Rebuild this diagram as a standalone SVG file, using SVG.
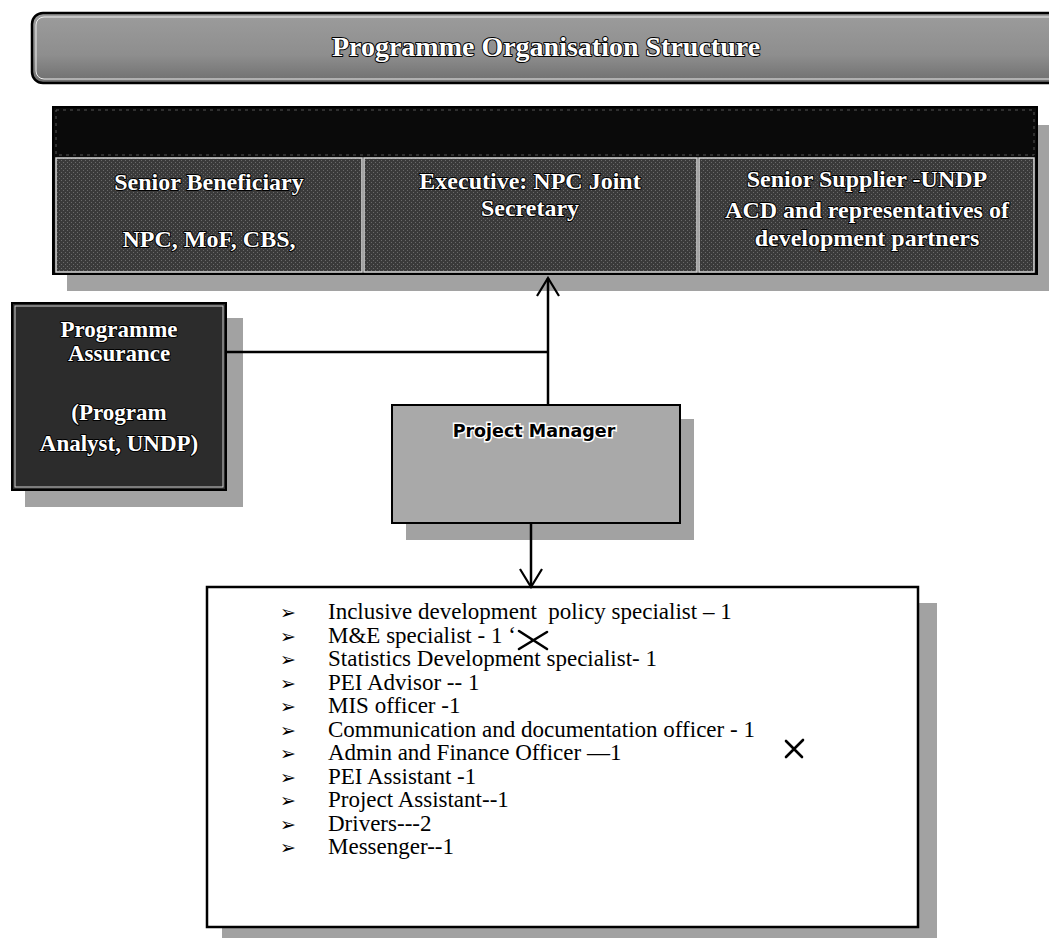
<svg xmlns="http://www.w3.org/2000/svg" width="1049" height="938" viewBox="0 0 1049 938">
  <defs>
    <linearGradient id="bannerGrad" x1="0" y1="0" x2="0" y2="1">
      <stop offset="0" stop-color="#9c9c9c"/>
      <stop offset="0.6" stop-color="#8e8e8e"/>
      <stop offset="1" stop-color="#6e6e6e"/>
    </linearGradient>
    <pattern id="dither" width="4" height="4" patternUnits="userSpaceOnUse">
      <rect width="4" height="4" fill="#3a3a3a"/>
      <rect x="1" y="0" width="1" height="1" fill="#6a6a6a"/>
      <rect x="3" y="2" width="1" height="1" fill="#6a6a6a"/>
    </pattern>
    <marker id="arr" markerWidth="24" markerHeight="24" refX="22" refY="12" orient="auto" markerUnits="userSpaceOnUse">
      <path d="M4,1 L22,12 L4,23" fill="none" stroke="#000" stroke-width="2.2"/>
    </marker>
  </defs>
  <style>
    .ol { font-family: "Liberation Serif", "Times New Roman", serif; font-weight: bold; fill: #fff; stroke: #000; stroke-width: 2; paint-order: stroke; stroke-linejoin: round; text-anchor: middle; }
    .cell { fill: url(#dither); stroke: #d8d8d8; stroke-width: 1.5; }
    .shadow { fill: #a2a2a2; }
    .item { font-family: "Liberation Serif", "Times New Roman", serif; font-size: 23px; fill: #000; white-space: pre; }
    .bul { font-family: "DejaVu Sans", sans-serif; font-size: 19px; fill: #000; }
    .conn { fill: none; stroke: #000; stroke-width: 2.5; }
    .mark { fill: none; stroke: #000; stroke-width: 2.6; stroke-linecap: round; }
  </style>

  <rect width="1049" height="938" fill="#fff"/>

  <g id="title">
    <rect x="32" y="13" width="1040" height="70" rx="11" fill="url(#bannerGrad)" stroke="#000" stroke-width="2.5"/>
    <rect x="36" y="17" width="1030" height="62" rx="8" fill="none" stroke="#eee" stroke-width="1"/>
    <text class="ol" x="546" y="56" font-size="28">Programme Organisation Structure</text>
  </g>

  <g id="board">
    <rect class="shadow" x="67" y="125" width="982" height="166"/>
    <rect x="53" y="107" width="984" height="167" fill="#0a0a0a" stroke="#000" stroke-width="2"/>
    <rect x="56" y="110" width="978" height="45" fill="none" stroke="#555" stroke-width="1" stroke-dasharray="3 4"/>
    <g id="senior-beneficiary">
      <rect class="cell" x="56" y="158" width="306" height="114"/>
      <text class="ol" x="209" y="190" font-size="24">Senior Beneficiary</text>
      <text class="ol" x="209" y="247" font-size="24">NPC, MoF, CBS,</text>
    </g>
    <g id="executive">
      <rect class="cell" x="364" y="158" width="333" height="114"/>
      <text class="ol" x="530" y="189" font-size="24">Executive: NPC Joint</text>
      <text class="ol" x="530" y="216" font-size="24">Secretary</text>
    </g>
    <g id="senior-supplier">
      <rect class="cell" x="699" y="158" width="335" height="114"/>
      <text class="ol" x="867" y="187" font-size="24">Senior Supplier -UNDP</text>
      <text class="ol" x="867" y="218" font-size="24">ACD and representatives of</text>
      <text class="ol" x="867" y="246" font-size="24">development partners</text>
    </g>
  </g>

  <g id="assurance">
    <rect class="shadow" x="25" y="318" width="218" height="189"/>
    <rect x="12" y="303" width="214" height="187" fill="#2c2c2c" stroke="#000" stroke-width="2"/>
    <rect x="15" y="306" width="208" height="181" fill="none" stroke="#cfcfcf" stroke-width="1"/>
    <text class="ol" x="119" y="337" font-size="23">Programme</text>
    <text class="ol" x="119" y="361" font-size="23">Assurance</text>
    <text class="ol" x="119" y="420" font-size="23">(Program</text>
    <text class="ol" x="119" y="451" font-size="23">Analyst, UNDP)</text>
  </g>

  <g id="pm">
    <rect class="shadow" x="406" y="419" width="288" height="121"/>
    <rect x="392" y="405" width="288" height="118" fill="#a9a9a9" stroke="#000" stroke-width="2"/>
    <text x="534" y="437" font-family="DejaVu Sans, sans-serif" font-weight="bold" font-size="17.5" fill="#000" stroke="#fff" stroke-width="3" paint-order="stroke" text-anchor="middle">Project Manager</text>
  </g>

  <g id="team">
    <rect class="shadow" x="222" y="603" width="715" height="335"/>
    <rect x="207" y="587" width="711" height="340" fill="#fff" stroke="#000" stroke-width="2.5"/>
    <g class="bul">
      <text x="280" y="619">➢</text>
      <text x="280" y="643">➢</text>
      <text x="280" y="666">➢</text>
      <text x="280" y="690">➢</text>
      <text x="280" y="713">➢</text>
      <text x="280" y="737">➢</text>
      <text x="280" y="760">➢</text>
      <text x="280" y="784">➢</text>
      <text x="280" y="807">➢</text>
      <text x="280" y="831">➢</text>
      <text x="280" y="854">➢</text>
    </g>
    <text class="item" x="328" y="619">Inclusive development  policy specialist – 1</text>
    <text class="item" x="328" y="643">M&amp;E specialist - 1 ‘</text>
    <text class="item" x="328" y="666">Statistics Development specialist- 1</text>
    <text class="item" x="328" y="690">PEI Advisor -- 1</text>
    <text class="item" x="328" y="713">MIS officer -1</text>
    <text class="item" x="328" y="737">Communication and documentation officer - 1</text>
    <text class="item" x="328" y="760">Admin and Finance Officer —1</text>
    <text class="item" x="328" y="784">PEI Assistant -1</text>
    <text class="item" x="328" y="807">Project Assistant--1</text>
    <text class="item" x="328" y="831">Drivers---2</text>
    <text class="item" x="328" y="854">Messenger--1</text>
    <path class="mark" d="M519,631 L547,649 M519,649 L547,632"/>
    <path class="mark" d="M786,741 L802,757 M786,757 L803,740" stroke-width="2.2"/>
  </g>

  <g id="connectors">
    <path class="conn" d="M548,405 L548,278" marker-end="url(#arr)"/>
    <path class="conn" d="M226,352 L548,352"/>
    <path class="conn" d="M531,523 L531,587" marker-end="url(#arr)"/>
  </g>
</svg>
